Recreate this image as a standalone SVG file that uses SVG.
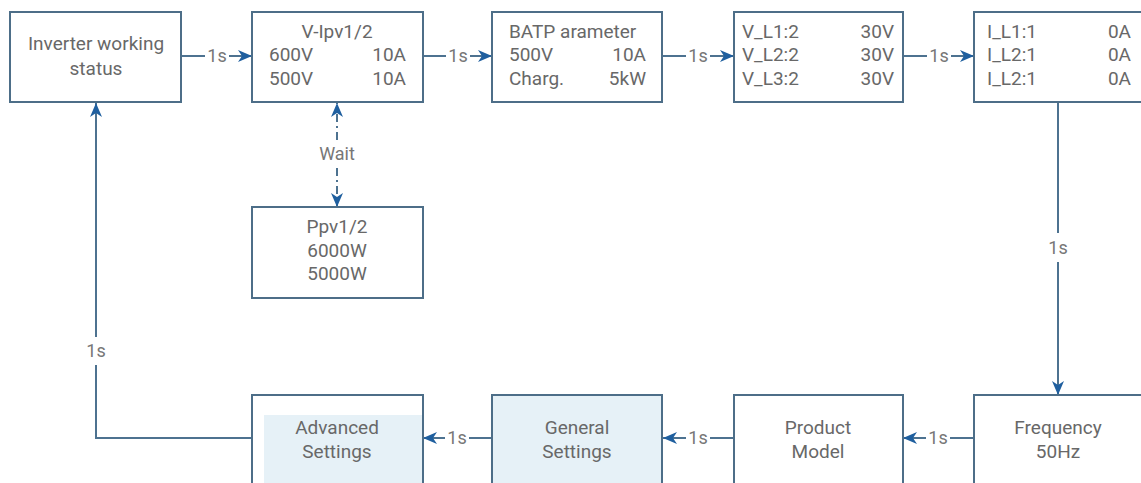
<svg xmlns="http://www.w3.org/2000/svg" width="1141" height="483" viewBox="0 0 1141 483">
<defs>
<style>
.box{fill:#ffffff;stroke:#4d6e88;stroke-width:2}
.fill{fill:#e6f1f7;stroke:#4d6e88;stroke-width:2}
.t{font-family:Roboto,"Liberation Sans",sans-serif;font-size:19px;fill:#686868}
.c{text-anchor:middle}
.r{text-anchor:end}
.ln{stroke:#4d7290;stroke-width:2;fill:none}
.dash{stroke:#4d7290;stroke-width:2;fill:none;stroke-dasharray:8 4 2 4}
.lbl{font-family:Roboto,"Liberation Sans",sans-serif;font-size:18px;fill:#777777;text-anchor:middle}
</style>
<marker id="ah" markerWidth="14" markerHeight="12" refX="14" refY="6" orient="auto" markerUnits="userSpaceOnUse">
<path d="M0,0 L14,6 L0,12 L4,6 Z" fill="#1f5f9f"/>
</marker>
</defs>
<rect width="1141" height="483" fill="#ffffff"/>

<g id="connectors">
<line class="ln" x1="181" y1="56" x2="205" y2="56"/><line class="ln" x1="229" y1="56" x2="252" y2="56" marker-end="url(#ah)"/>
<text class="lbl" x="217" y="62">1s</text>
<line class="ln" x1="423" y1="56" x2="446" y2="56"/><line class="ln" x1="470" y1="56" x2="492" y2="56" marker-end="url(#ah)"/>
<text class="lbl" x="458" y="62">1s</text>
<line class="ln" x1="662" y1="56" x2="686" y2="56"/><line class="ln" x1="710" y1="56" x2="734" y2="56" marker-end="url(#ah)"/>
<text class="lbl" x="698" y="62">1s</text>
<line class="ln" x1="903" y1="56" x2="927" y2="56"/><line class="ln" x1="951" y1="56" x2="974" y2="56" marker-end="url(#ah)"/>
<text class="lbl" x="939" y="62">1s</text>

<line class="dash" x1="337" y1="140" x2="337" y2="103" marker-end="url(#ah)"/>
<line class="dash" x1="337" y1="168" x2="337" y2="207" marker-end="url(#ah)"/>
<text class="lbl" x="337" y="160">Wait</text>

<line class="ln" x1="1058" y1="102" x2="1058" y2="233"/>
<line class="ln" x1="1058" y1="262" x2="1058" y2="395" marker-end="url(#ah)"/>
<text class="lbl" x="1058" y="254">1s</text>

<line class="ln" x1="974" y1="438" x2="950" y2="438"/><line class="ln" x1="926" y1="438" x2="903" y2="438" marker-end="url(#ah)"/>
<text class="lbl" x="938" y="444">1s</text>
<line class="ln" x1="734" y1="438" x2="710" y2="438"/><line class="ln" x1="686" y1="438" x2="663" y2="438" marker-end="url(#ah)"/>
<text class="lbl" x="698" y="444">1s</text>
<line class="ln" x1="492" y1="438" x2="469" y2="438"/><line class="ln" x1="445" y1="438" x2="423" y2="438" marker-end="url(#ah)"/>
<text class="lbl" x="457" y="444">1s</text>

<polyline class="ln" points="252,438 96,438 96,365"/>
<line class="ln" x1="96" y1="337" x2="96" y2="103" marker-end="url(#ah)"/>
<text class="lbl" x="96" y="357">1s</text>
</g>

<g id="inverter-status">
<rect class="box" x="10" y="12" width="171" height="90"/>
<text class="t c" x="96" y="50">Inverter working</text>
<text class="t c" x="96" y="75">status</text>
</g>

<g id="v-ipv">
<rect class="box" x="252" y="12" width="171" height="90"/>
<text class="t c" x="337" y="38">V-Ipv1/2</text>
<text class="t" x="269" y="61">600V</text><text class="t r" x="406" y="61">10A</text>
<text class="t" x="269" y="85">500V</text><text class="t r" x="406" y="85">10A</text>
</g>

<g id="bat-param">
<rect class="box" x="492" y="12" width="170" height="90"/>
<text class="t" x="509" y="38">BATP arameter</text>
<text class="t" x="509" y="61">500V</text><text class="t r" x="646" y="61">10A</text>
<text class="t" x="509" y="85">Charg.</text><text class="t r" x="646" y="85">5kW</text>
</g>

<g id="v-l">
<rect class="box" x="734" y="12" width="169" height="90"/>
<text class="t" x="742" y="38">V_L1:2</text><text class="t r" x="894" y="38">30V</text>
<text class="t" x="742" y="61">V_L2:2</text><text class="t r" x="894" y="61">30V</text>
<text class="t" x="742" y="85">V_L3:2</text><text class="t r" x="894" y="85">30V</text>
</g>

<g id="i-l">
<rect class="box" x="974" y="12" width="180" height="90"/>
<text class="t" x="987" y="38">I_L1:1</text><text class="t r" x="1131" y="38">0A</text>
<text class="t" x="987" y="61">I_L2:1</text><text class="t r" x="1131" y="61">0A</text>
<text class="t" x="987" y="85">I_L2:1</text><text class="t r" x="1131" y="85">0A</text>
</g>

<g id="ppv">
<rect class="box" x="252" y="207" width="171" height="91"/>
<text class="t c" x="337" y="233">Ppv1/2</text>
<text class="t c" x="337" y="257">6000W</text>
<text class="t c" x="337" y="280">5000W</text>
</g>

<g id="advanced-settings">
<rect class="box" x="252" y="395" width="171" height="100"/>
<rect x="264" y="415" width="158" height="80" fill="#e6f1f7"/>
<text class="t c" x="337" y="434">Advanced</text>
<text class="t c" x="337" y="458">Settings</text>
</g>

<g id="general-settings">
<rect class="fill" x="492" y="395" width="170" height="100"/>
<text class="t c" x="577" y="434">General</text>
<text class="t c" x="577" y="458">Settings</text>
</g>

<g id="product-model">
<rect class="box" x="734" y="395" width="169" height="100"/>
<text class="t c" x="818" y="434">Product</text>
<text class="t c" x="818" y="458">Model</text>
</g>

<g id="frequency">
<rect class="box" x="974" y="395" width="180" height="100"/>
<text class="t c" x="1058" y="434">Frequency</text>
<text class="t c" x="1058" y="458">50Hz</text>
</g>
</svg>
